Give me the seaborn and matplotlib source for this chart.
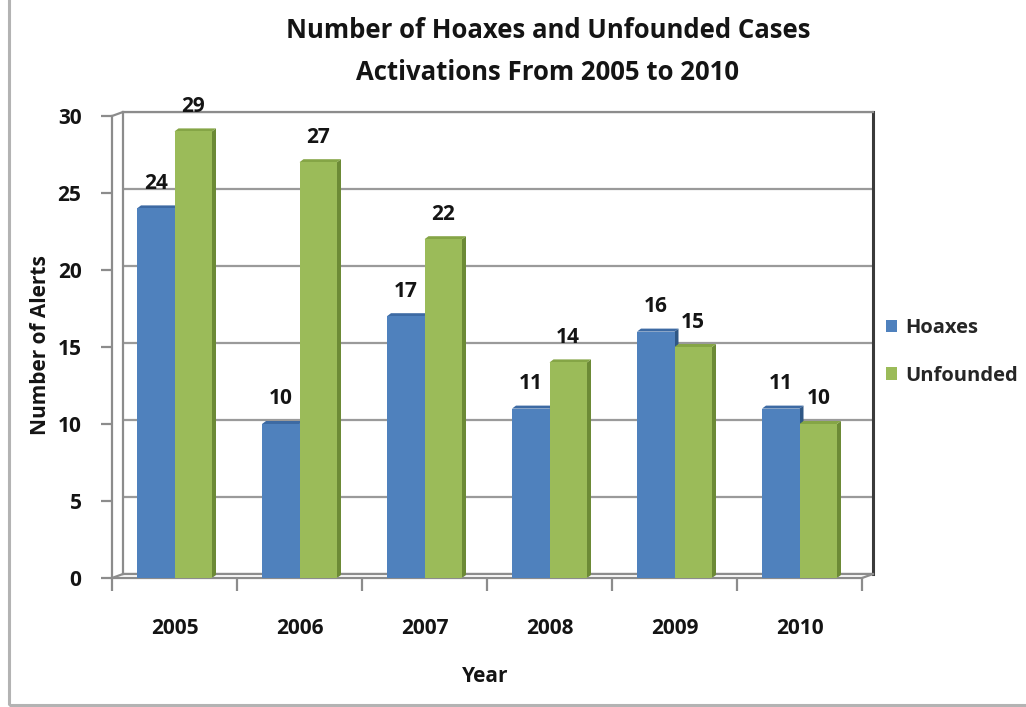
import matplotlib
matplotlib.use("Agg")
import matplotlib.pyplot as plt
from matplotlib.patches import Polygon, Rectangle, Patch
from matplotlib.lines import Line2D
import seaborn as sns
import pandas as pd

years = ["2005", "2006", "2007", "2008", "2009", "2010"]
hoaxes = [24, 10, 17, 11, 16, 11]
unfounded = [29, 27, 22, 14, 15, 10]
series_names = ["Hoaxes", "Unfounded"]
y_ticks = [0, 5, 10, 15, 20, 25, 30]
title_lines = ["Number of Hoaxes and Unfounded Cases", "Activations From 2005 to 2010"]

df = pd.DataFrame({
    "Year": years * 2,
    "Alerts": hoaxes + unfounded,
    "Series": [series_names[0]] * len(years) + [series_names[1]] * len(years),
})

sns.set_theme(style="white")
plt.rcParams["font.family"] = ["Open Sans", "DejaVu Sans"]
plt.rcParams["font.weight"] = "bold"

W, H = 1026, 707
fig = plt.figure(figsize=(W / 100, H / 100), dpi=100)
fig.patch.set_facecolor("white")

def fx(px):
    return px / W

def fy(py):
    return 1 - py / H

TXT = "#141414"
FS = 15

# outer chart border
fig.add_artist(Rectangle((fx(8.5), fy(705)), 1.2, fy(0) - fy(705) + 0.1,
                         transform=fig.transFigure, fill=False,
                         edgecolor="#b3b3b3", lw=2.2))

colors = {"Hoaxes": "#4f81bd", "Unfounded": "#9bbb59"}
side_colors = {"Hoaxes": "#2f5785", "Unfounded": "#6c8a36"}
top_colors = {"Hoaxes": "#3d6aa3", "Unfounded": "#85a546"}

# back wall axes
fl, fr, fb, ft = 112, 862, 578, 116
dxp, dyp = 11, 4
back = fig.add_axes([fx(fl + dxp), fy(fb - dyp), (fr - fl) / W, (fb - ft) / H])
back.set_xlim(-0.5, 5.5)
back.set_ylim(0, 30)
back.set_yticks(y_ticks)
back.set_xticks([])
back.tick_params(left=False, labelleft=False, bottom=False)
back.yaxis.grid(True, color="#9a9a9a", lw=1.6)
for s in ["left", "bottom", "top"]:
    back.spines[s].set_color("#8c8c8c")
    back.spines[s].set_linewidth(1.6)
back.spines["right"].set_color("#3a3a3a")
back.spines["right"].set_linewidth(2.2)

# front axes
ax = fig.add_axes([fx(fl), fy(fb), (fr - fl) / W, (fb - ft) / H])
ax.patch.set_alpha(0)
sns.barplot(data=df, x="Year", y="Alerts", hue="Series", order=years,
            hue_order=series_names, palette=colors, width=0.6, gap=0,
            saturation=1, ax=ax, legend=False, zorder=3,
            edgecolor="none", linewidth=0)
ax.set_xlim(-0.5, 5.5)
ax.set_ylim(0, 30)
ax.set_yticks(y_ticks)
ax.set_yticklabels([str(v) for v in y_ticks])
for s in ["top", "right"]:
    ax.spines[s].set_visible(False)
for s in ["left", "bottom"]:
    ax.spines[s].set_color("#8c8c8c")
    ax.spines[s].set_linewidth(1.6)
ax.set_xticks(range(len(years)))
ax.set_xticklabels(years)
ax.set_xticks([i - 0.5 for i in range(len(years) + 1)], minor=True)
ax.tick_params(axis="x", which="major", length=0, pad=29, labelsize=FS,
               labelcolor=TXT)
ax.tick_params(axis="x", which="minor", length=9, width=1.6, color="#8c8c8c",
               direction="out", bottom=True)
ax.tick_params(axis="y", length=8, width=1.6, color="#8c8c8c",
               direction="out", left=True, pad=14, labelsize=FS,
               labelcolor=TXT)
for lab in ax.get_xticklabels() + ax.get_yticklabels():
    lab.set_fontweight("bold")

ax.set_xlabel("Year", fontsize=FS, fontweight="bold", color=TXT)
ax.xaxis.set_label_coords((485 - fl) / (fr - fl), (fb - 677) / (fb - ft))
ax.xaxis.label.set_va("center")
ax.set_ylabel("Number of Alerts", fontsize=FS, fontweight="bold", color=TXT)
ax.yaxis.set_label_coords((41 - fl) / (fr - fl), (fb - 345) / (fb - ft))
ax.yaxis.label.set_va("center")

# 3D-like depth faces derived from drawn bars
ddx = 4 * 6 / (fr - fl)
ddy = 3 * 30 / (fb - ft)
patches = list(ax.patches)
for i, p in enumerate(patches):
    name = series_names[i // len(years)]
    x0 = p.get_x()
    w = p.get_width()
    h = p.get_height()
    side = Polygon([(x0 + w, 0), (x0 + w, h), (x0 + w + ddx, h + ddy),
                    (x0 + w + ddx, ddy)], closed=True,
                   facecolor=side_colors[name], edgecolor="none", zorder=2.5)
    ax.add_patch(side)
    top = Polygon([(x0, h), (x0 + w, h), (x0 + w + ddx, h + ddy),
                   (x0 + ddx, h + ddy)], closed=True,
                  facecolor=top_colors[name], edgecolor="none", zorder=2.6)
    ax.add_patch(top)
    ax.annotate(f"{int(round(h))}", (x0 + w / 2, h), xytext=(0, 18),
                textcoords="offset points", ha="center", va="center",
                fontsize=FS, fontweight="bold", color=TXT, zorder=5)

# corner connectors
for (x1, y1) in [(fl, ft), (fr, fb), (fl, fb)]:
    fig.add_artist(Line2D([fx(x1), fx(x1 + dxp)], [fy(y1), fy(y1 - dyp)],
                          transform=fig.transFigure, color="#8c8c8c", lw=1.6))

# titles
fig.text(fx(548), fy(30), title_lines[0], ha="center", va="center",
         fontsize=18.5, fontweight="bold", color=TXT)
fig.text(fx(548), fy(72), title_lines[1], ha="center", va="center",
         fontsize=18.5, fontweight="bold", color=TXT)

# legend
handles = [Patch(facecolor=colors[n], edgecolor="none") for n in series_names]
fig.legend(handles, series_names, loc="center left",
           bbox_to_anchor=(fx(868), fy(352)), frameon=False,
           handlelength=0.55, handleheight=0.55,
           handletextpad=0.4, labelspacing=1.35,
           prop={"weight": "bold", "size": 14.5})

fig.savefig("out.png", dpi=100)
